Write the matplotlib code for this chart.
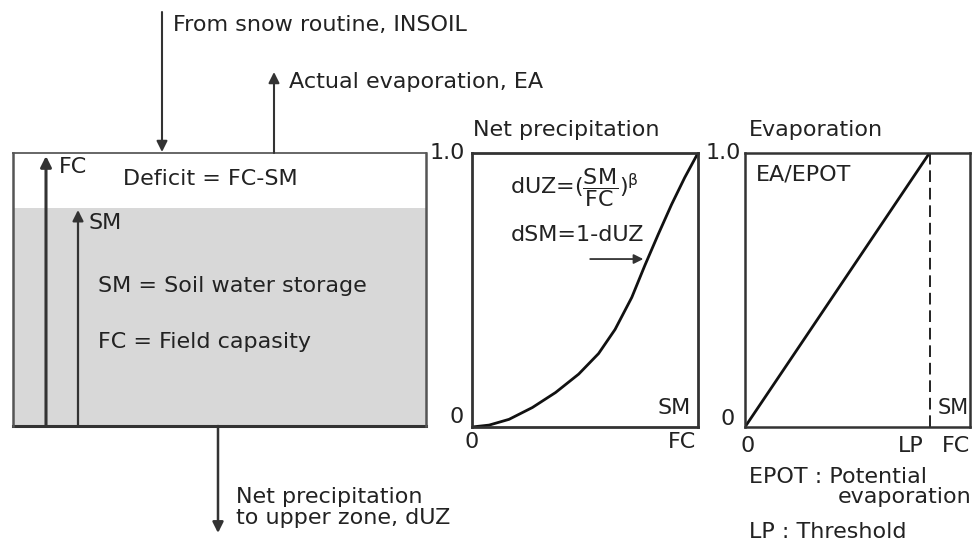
import numpy as np
import matplotlib.pyplot as plt
from matplotlib.patches import Rectangle

plt.rcParams['font.family'] = ['DejaVu Sans']
plt.rcParams['mathtext.fontset'] = 'dejavusans'
plt.rcParams['mathtext.default'] = 'regular'

# net precipitation curve, dUZ vs SM/FC
sm_frac = [0.0, 0.076, 0.164, 0.267, 0.37, 0.472, 0.56, 0.633, 0.707, 0.765, 0.824, 0.883, 0.941, 1.0]
duz = [0.0, 0.007, 0.028, 0.071, 0.126, 0.193, 0.268, 0.356, 0.473, 0.59, 0.703, 0.812, 0.91, 1.0]

# evaporation curve EA/EPOT vs SM/FC
lp = 0.82
ev_x = [0.0, lp]
ev_y = [0.0, 1.0]

FS = 16
ink = '#333333'
tc = '#222222'

fig = plt.figure(figsize=(9.73, 5.47), dpi=100)

# pixel overlay for the bucket diagram
ax0 = fig.add_axes([0, 0, 1, 1])
ax0.set_xlim(0, 973)
ax0.set_ylim(547, 0)
ax0.axis('off')

ax0.add_patch(Rectangle((13, 208), 413, 218, facecolor='#d8d8d8', edgecolor='none'))
ax0.plot([13, 426], [153, 153], color='#666666', lw=1.4)
ax0.plot([13, 426], [426, 426], color=ink, lw=2.2)
ax0.plot([13, 13], [153, 426], color='#555555', lw=1.8)
ax0.plot([426, 426], [153, 426], color='#555555', lw=1.8)

arrow = dict(arrowstyle='-|>', color=ink, mutation_scale=16, shrinkA=0, shrinkB=0)
ax0.annotate('', xy=(46, 156), xytext=(46, 426), arrowprops=dict(arrow, lw=2.2))
ax0.annotate('', xy=(78, 210), xytext=(78, 426), arrowprops=dict(arrow, lw=1.6))
ax0.annotate('', xy=(162, 152), xytext=(162, 12), arrowprops=dict(arrow, lw=1.5))
ax0.annotate('', xy=(274, 72), xytext=(274, 153), arrowprops=dict(arrow, lw=1.5))
ax0.annotate('', xy=(218, 533), xytext=(218, 426), arrowprops=dict(arrow, lw=1.8))

t = dict(fontsize=FS, color=tc, va='center', ha='left')
ax0.text(59, 167, 'FC', **t)
ax0.text(88, 223, 'SM', **t)
ax0.text(123, 179, 'Deficit = FC-SM', **t)
ax0.text(98, 286, 'SM = Soil water storage', **t)
ax0.text(98, 342, 'FC = Field capasity', **t)
ax0.text(173, 25, 'From snow routine, INSOIL', **t)
ax0.text(289, 82, 'Actual evaporation, EA', **t)
ax0.text(236, 497, 'Net precipitation', **t)
ax0.text(236, 518, 'to upper zone, dUZ', **t)

ax0.text(473, 130, 'Net precipitation', **t)
ax0.text(749, 130, 'Evaporation', **t)
ax0.text(749, 477, 'EPOT : Potential', **t)
ax0.text(838, 497, 'evaporation', **t)
ax0.text(749, 532, 'LP : Threshold', **t)

# middle panel
ax1 = fig.add_axes([472 / 973, 1 - 427 / 547, 226 / 973, 274 / 547])
ax1.plot(sm_frac, duz, color='#111111', lw=2)
ax1.set_xlim(0, 1)
ax1.set_ylim(0, 1)
ax1.set_xticks([])
ax1.set_yticks([])
for s in ax1.spines.values():
    s.set_color(ink)
    s.set_linewidth(2)
tt = dict(fontsize=FS, color=tc, va='center')
ax1.text(-0.03, 1.0, '1.0', transform=ax1.transAxes, ha='right', **tt)
ax1.text(-0.07, 0.035, '0', transform=ax1.transAxes, ha='center', **tt)
ax1.text(0.0, -0.055, '0', transform=ax1.transAxes, ha='center', **tt)
ax1.text(0.99, -0.055, 'FC', transform=ax1.transAxes, ha='right', **tt)
ax1.text(0.97, 0.07, 'SM', transform=ax1.transAxes, ha='right', **tt)
ax1.text(0.17, 0.875, r'dUZ=$(\dfrac{SM}{FC})^{\beta}$', transform=ax1.transAxes, ha='left', **tt)
ax1.text(0.17, 0.70, 'dSM=1-dUZ', transform=ax1.transAxes, ha='left', **tt)
ax1.annotate('', xy=(0.758, 0.613), xytext=(0.523, 0.613), xycoords='axes fraction',
             arrowprops=dict(arrowstyle='-|>', color=ink, lw=1.3, mutation_scale=14, shrinkA=0, shrinkB=0))

# right panel
ax2 = fig.add_axes([745 / 973, 1 - 427 / 547, 225 / 973, 274 / 547])
ax2.plot(ev_x, ev_y, color='#111111', lw=2)
ax2.plot([lp, lp], [0, 1], color=tc, lw=1.4, ls=(0, (6, 3)))
ax2.set_xlim(0, 1)
ax2.set_ylim(0, 1)
ax2.set_xticks([])
ax2.set_yticks([])
for s in ax2.spines.values():
    s.set_color(ink)
    s.set_linewidth(1.8)
ax2.text(-0.02, 1.0, '1.0', transform=ax2.transAxes, ha='right', **tt)
ax2.text(-0.075, 0.03, '0', transform=ax2.transAxes, ha='center', **tt)
ax2.text(0.01, -0.07, '0', transform=ax2.transAxes, ha='center', **tt)
ax2.text(lp - 0.025, -0.07, 'LP', transform=ax2.transAxes, ha='right', **tt)
ax2.text(1.0, -0.07, 'FC', transform=ax2.transAxes, ha='right', **tt)
ax2.text(0.995, 0.07, 'SM', transform=ax2.transAxes, ha='right', fontsize=FS - 1, color=tc, va='center')
ax2.text(0.05, 0.92, 'EA/EPOT', transform=ax2.transAxes, ha='left', **tt)

fig.savefig('out.png', dpi=100)
